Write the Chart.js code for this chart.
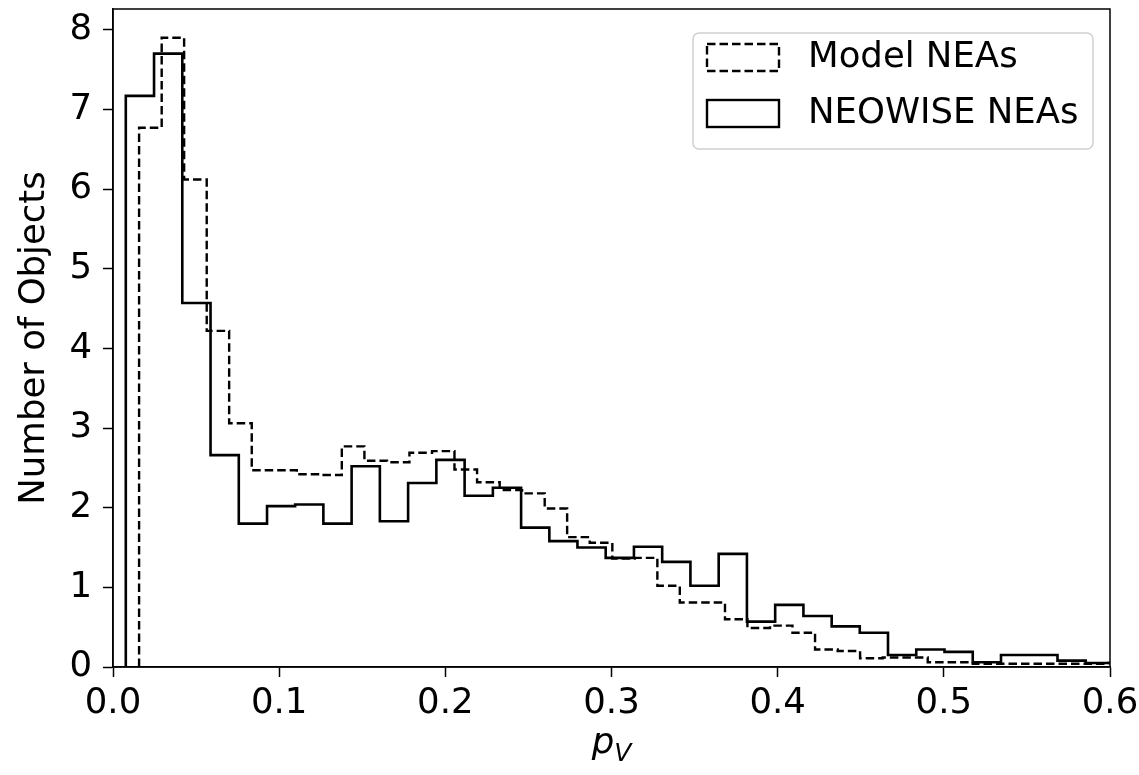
<!DOCTYPE html>
<html>
<head>
<meta charset="utf-8">
<script src="https://cdn.jsdelivr.net/npm/chart.js@4"></script>
<style>
  body { margin: 0; background: #fff; }
  #wrap { width: 1139px; height: 775px; }
</style>
</head>
<body>
<div id="wrap"><canvas id="chartCanvas"></canvas></div>
<script>
// NEOWISE NEAs (solid step histogram)
const neowiseEdges = [0.0077, 0.0247, 0.0417, 0.0587, 0.0757, 0.0927, 0.1096, 0.1266, 0.1436, 0.1606,
  0.1776, 0.1946, 0.2116, 0.2286, 0.2456, 0.2626, 0.2795, 0.2965, 0.3135, 0.3305,
  0.3475, 0.3645, 0.3815, 0.3985, 0.4155, 0.4325, 0.4494, 0.4664, 0.4834, 0.5004,
  0.5174, 0.5344, 0.5514, 0.5684, 0.5854, 0.6024];
const neowiseCounts = [7.17, 7.70, 4.57, 2.66, 1.80, 2.02, 2.04, 1.80, 2.52, 1.83,
  2.31, 2.60, 2.15, 2.25, 1.75, 1.58, 1.50, 1.37, 1.51, 1.32,
  1.02, 1.42, 0.57, 0.78, 0.64, 0.51, 0.43, 0.15, 0.22, 0.19,
  0.06, 0.15, 0.15, 0.08, 0.05];

// Model NEAs (dashed step histogram)
const modelEdges = [0.0157, 0.0293, 0.0428, 0.0564, 0.0699, 0.0835, 0.0971, 0.1106, 0.1242, 0.1377,
  0.1513, 0.1649, 0.1784, 0.1920, 0.2055, 0.2191, 0.2327, 0.2462, 0.2598, 0.2733,
  0.2869, 0.3005, 0.3140, 0.3276, 0.3411, 0.3547, 0.3683, 0.3818, 0.3954, 0.4089,
  0.4225, 0.4361, 0.4496, 0.4632, 0.4767, 0.4903, 0.5039, 0.5174, 0.5310, 0.5445,
  0.5581, 0.5717, 0.5852, 0.5988, 0.6123];
const modelCounts = [6.77, 7.90, 6.12, 4.22, 3.06, 2.47, 2.47, 2.42, 2.41, 2.77,
  2.59, 2.57, 2.69, 2.71, 2.48, 2.32, 2.22, 2.18, 1.99, 1.63,
  1.56, 1.36, 1.37, 1.02, 0.81, 0.81, 0.60, 0.49, 0.52, 0.43,
  0.22, 0.20, 0.11, 0.12, 0.12, 0.06, 0.06, 0.04, 0.04, 0.04,
  0.04, 0.04, 0.04, 0.05];

const xTicks = [0, 0.1, 0.2, 0.3, 0.4, 0.5, 0.6];
const yTicks = [0, 1, 2, 3, 4, 5, 6, 7, 8];

const FONT = 'DejaVu Sans';
const FS = 35.5;

// step outline like matplotlib histtype='step'
function stepPoints(edges, counts) {
  const pts = [{ x: edges[0], y: 0 }];
  counts.forEach((c, i) => pts.push({ x: edges[i], y: c }));
  pts.push({ x: edges[edges.length - 1], y: 0 });
  return pts;
}

// keep the plot box fixed, tick labels may overhang it
function noPad(s) {
  s.paddingTop = 0; s.paddingBottom = 0; s.paddingLeft = 0; s.paddingRight = 0;
}

const frame = {
  id: 'frame',
  afterDraw(chart) {
    const { ctx, chartArea: a } = chart;
    ctx.save();
    ctx.strokeStyle = '#000';
    ctx.lineWidth = 1.5;
    ctx.strokeRect(a.left, a.top, a.right - a.left, a.bottom - a.top);

    // x axis title: p_V
    ctx.fillStyle = '#000';
    ctx.textBaseline = 'alphabetic';
    ctx.textAlign = 'left';
    const subFont = `italic ${Math.round(FS * 0.7)}px "${FONT}"`;
    ctx.font = `italic ${FS}px "${FONT}"`;
    const pw = ctx.measureText('p').width;
    ctx.font = subFont;
    const vw = ctx.measureText('V').width;
    const cx = (a.left + a.right) / 2;
    const x0 = cx - (pw + vw) / 2;
    ctx.font = `italic ${FS}px "${FONT}"`;
    ctx.fillText('p', x0, 753);
    ctx.font = subFont;
    ctx.fillText('V', x0 + pw, 761);

    // legend in upper right
    const bw = 400, bh = 116;
    const bx = a.right - 17 - bw, by = a.top + 24;
    ctx.beginPath();
    ctx.roundRect(bx, by, bw, bh, 6);
    ctx.fillStyle = 'rgba(255,255,255,0.8)';
    ctx.fill();
    ctx.strokeStyle = '#d0d0d0';
    ctx.lineWidth = 1.5;
    ctx.stroke();
    const rows = [by + 24, by + 80];
    chart.data.datasets.forEach((ds, i) => {
      const y = rows[i];
      ctx.strokeStyle = '#000';
      ctx.lineWidth = 2.4;
      ctx.setLineDash(ds.borderDash || []);
      ctx.strokeRect(bx + 14, y - 13, 72, 27);
      ctx.setLineDash([]);
      ctx.fillStyle = '#000';
      ctx.font = `${FS}px "${FONT}"`;
      ctx.textBaseline = 'middle';
      ctx.fillText(ds.label, bx + 115, y + 1);
    });
    ctx.restore();
  }
};

new Chart(document.getElementById('chartCanvas'), {
  type: 'line',
  data: {
    datasets: [
      {
        label: 'Model NEAs',
        data: stepPoints(modelEdges, modelCounts),
        borderColor: '#000',
        borderWidth: 2.4,
        borderDash: [8.5, 4],
        stepped: true,
        pointRadius: 0,
        fill: false
      },
      {
        label: 'NEOWISE NEAs',
        data: stepPoints(neowiseEdges, neowiseCounts),
        borderColor: '#000',
        borderWidth: 2.6,
        stepped: true,
        pointRadius: 0,
        fill: false
      }
    ]
  },
  options: {
    responsive: true,
    maintainAspectRatio: false,
    animation: false,
    layout: { padding: { top: 9, right: 29, left: 0, bottom: 0 } },
    plugins: { legend: { display: false }, tooltip: { enabled: false } },
    scales: {
      x: {
        type: 'linear',
        min: 0,
        max: 0.6,
        afterFit: s => { s.height = 108; noPad(s); },
        afterBuildTicks: s => { s.ticks = xTicks.map(v => ({ value: v })); },
        ticks: {
          color: '#000',
          font: { family: FONT, size: FS },
          padding: 5,
          maxRotation: 0,
          callback: v => v.toFixed(1)
        },
        grid: { drawOnChartArea: false, drawTicks: true, tickLength: 10, tickWidth: 1.5, tickColor: '#000' },
        border: { display: true, color: '#000', width: 1.5 }
      },
      y: {
        min: 0,
        max: 8.26,
        afterFit: s => { s.width = 113; noPad(s); },
        afterBuildTicks: s => { s.ticks = yTicks.map(v => ({ value: v })); },
        ticks: {
          color: '#000',
          font: { family: FONT, size: FS },
          padding: 11
        },
        title: {
          display: true,
          text: 'Number of Objects',
          color: '#000',
          font: { family: FONT, size: FS },
          padding: { top: 13, bottom: 0 }
        },
        grid: { drawOnChartArea: false, drawTicks: true, tickLength: 10, tickWidth: 1.5, tickColor: '#000' },
        border: { display: true, color: '#000', width: 1.5 }
      }
    }
  },
  plugins: [frame]
});
</script>
</body>
</html>
